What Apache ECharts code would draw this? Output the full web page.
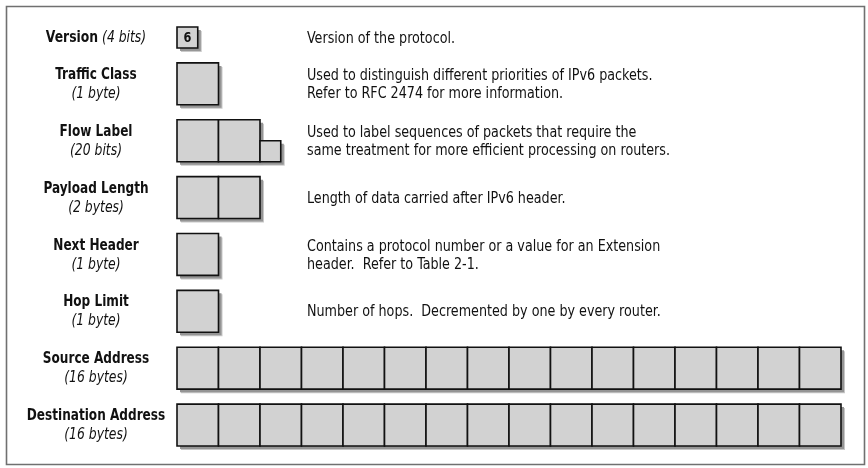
<!DOCTYPE html>
<html>
<head>
<meta charset="utf-8">
<script src="https://cdn.jsdelivr.net/npm/echarts@6/dist/echarts.min.js"></script>
<style>
  html, body { margin: 0; padding: 0; background: #fff; }
  #chart { width: 868px; height: 468px; }
</style>
</head>
<body>
<div id="chart"></div>
<script>
// IPv6 header fields, one row each
const fieldNames = ['Version', 'Traffic Class', 'Flow Label', 'Payload Length', 'Next Header', 'Hop Limit', 'Source Address', 'Destination Address'];
const fieldSizes = ['(4 bits)', '(1 byte)', '(20 bits)', '(2 bytes)', '(1 byte)', '(1 byte)', '(16 bytes)', '(16 bytes)'];
const fieldBits = [4, 8, 20, 16, 8, 8, 128, 128];
const fieldValues = ['6', '', '', '', '', '', '', ''];
const descriptions = [
    ['Version of the protocol.'],
    ['Used to distinguish different priorities of IPv6 packets.', 'Refer to RFC 2474 for more information.'],
    ['Used to label sequences of packets that require the', 'same treatment for more efficient processing on routers.'],
    ['Length of data carried after IPv6 header.'],
    ['Contains a protocol number or a value for an Extension', 'header.  Refer to Table 2-1.'],
    ['Number of hops.  Decremented by one by every router.'],
    [],
    []
];

const FONT = "'DejaVu Sans Condensed', sans-serif";
const GAP = 15 / 42;  // vertical gap between rows, in bytes

// row top / height in byte units
const rowHeight = fieldBits.map(b => b < 8 ? b / 8 : 1);
const rowTop = [];
let acc = 0;
rowHeight.forEach((h, i) => { rowTop.push(acc); acc += h + GAP; });
const totalHeight = acc - GAP;

const data = fieldNames.map((n, i) => [i, fieldBits[i]]);

// narrow text: squeeze horizontally like a condensed face
function txt(text, x, y, align, font, sx, rich) {
    return {
        type: 'text', x: x, y: y, scaleX: sx, originX: 0, originY: 0,
        style: {text: text, x: 0, y: 0, align: align, verticalAlign: 'middle',
            font: font, fill: '#111', rich: rich}
    };
}

function renderItem(params, api) {
    const i = api.value(0);
    const bits = api.value(1);
    const full = Math.floor(bits / 8);
    const rest = bits % 8;
    const top = rowTop[i];
    const h = rowHeight[i];

    const p0 = api.coord([0, top]);
    const pByte = api.coord([1, top + 1]);
    const bw = pByte[0] - p0[0];
    const bh = pByte[1] - p0[1];
    const x0 = p0[0], y0 = p0[1];
    const rowPx = h * bh;
    const cy = y0 + rowPx / 2;

    const cells = [];
    for (let k = 0; k < full; k++) cells.push({x: x0 + k * bw, y: y0, w: bw, h: bh});
    if (rest) {
        const s = rest / 8;
        cells.push({x: x0 + full * bw, y: y0 + rowPx - s * bh, w: s * bw, h: s * bh});
    }

    const children = [];
    // shadows
    const shapes = [];
    if (full) shapes.push({x: x0, y: y0, w: full * bw, h: bh});
    if (rest) shapes.push(cells[cells.length - 1]);
    shapes.forEach(s => {
        children.push({type: 'rect', shape: {x: s.x + 4, y: s.y + 4, width: s.w, height: s.h},
            style: {fill: '#c8c8c8'}});
        children.push({type: 'rect', shape: {x: s.x + 3, y: s.y + 3, width: s.w, height: s.h},
            style: {fill: '#959595'}});
    });
    cells.forEach(c => {
        children.push({type: 'rect', shape: {x: c.x, y: c.y, width: c.w, height: c.h},
            style: {fill: '#d2d2d2', stroke: '#111', lineWidth: 1.6}});
    });
    if (fieldValues[i]) {
        const c = cells[0];
        children.push(txt(fieldValues[i], c.x + c.w / 2, c.y + c.h / 2 + 1, 'center', 'bold 14px ' + FONT, 0.9));
    }

    // left labels
    const lx = x0 - 81;
    if (h < 1) {
        children.push(txt('{b|' + fieldNames[i] + '} {i|' + fieldSizes[i] + '}', lx, cy, 'center', '16px ' + FONT, 0.86, {
            b: {font: 'bold 16px ' + FONT, fill: '#111'},
            i: {font: 'italic 16px ' + FONT, fill: '#111'}
        }));
    } else {
        children.push(txt(fieldNames[i], lx, cy - 9, 'center', 'bold 16px ' + FONT, 0.84));
        children.push(txt(fieldSizes[i], lx, cy + 10, 'center', 'italic 16px ' + FONT, 0.86));
    }

    // descriptions
    const lines = descriptions[i];
    const lh = 18;
    lines.forEach((t, k) => {
        children.push(txt(t, x0 + 130, cy + (k - (lines.length - 1) / 2) * lh + 1, 'left', '16px ' + FONT, 0.885));
    });

    return {type: 'group', children};
}

const chart = echarts.init(document.getElementById('chart'));
chart.setOption({
    animation: false,
    backgroundColor: '#fff',
    grid: {left: 177, top: 27, width: 664, height: 419},
    xAxis: {type: 'value', min: 0, max: 16, show: false},
    yAxis: {type: 'value', min: 0, max: totalHeight, inverse: true, show: false},
    graphic: [{
        type: 'rect', left: 4, top: 4, z: -1,
        shape: {width: 858, height: 458},
        style: {fill: 'none', stroke: '#707070', lineWidth: 1.6}
    }],
    series: [{
        type: 'custom',
        renderItem: renderItem,
        clip: false,
        data: data
    }]
});
</script>
</body>
</html>
